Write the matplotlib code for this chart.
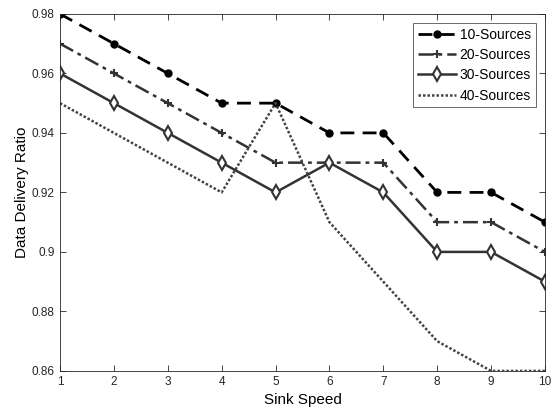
import matplotlib
matplotlib.use("Agg")
import matplotlib.pyplot as plt

# datos
velocidad = [1, 2, 3, 4, 5, 6, 7, 8, 9, 10]
fuentes_10 = [0.98, 0.97, 0.96, 0.95, 0.95, 0.94, 0.94, 0.92, 0.92, 0.91]
fuentes_20 = [0.97, 0.96, 0.95, 0.94, 0.93, 0.93, 0.93, 0.91, 0.91, 0.90]
fuentes_30 = [0.96, 0.95, 0.94, 0.93, 0.92, 0.93, 0.92, 0.90, 0.90, 0.89]
fuentes_40 = [0.95, 0.94, 0.93, 0.92, 0.95, 0.91, 0.89, 0.87, 0.86, 0.86]
etiquetas = ['10-Sources', '20-Sources', '30-Sources', '40-Sources']
ticks_y = [0.86, 0.88, 0.9, 0.92, 0.94, 0.96, 0.98]

plt.rcParams['font.family'] = ['Liberation Sans', 'DejaVu Sans']

fig = plt.figure(figsize=(5.57, 4.11), dpi=100)
ax = fig.add_axes([0.1077, 0.0975, 0.8707, 0.8687])

ax.plot(velocidad, fuentes_10, color='black', linestyle=(0, (5, 3)), linewidth=2,
        marker='o', markersize=5, label=etiquetas[0])
ax.plot(velocidad, fuentes_20, color='#333333', linestyle=(0, (6, 2, 1.5, 2)), linewidth=1.8,
        marker='+', markersize=6, markeredgewidth=1.5, label=etiquetas[1])
ax.plot(velocidad, fuentes_30, color='#333333', linestyle='-', linewidth=1.8,
        marker='d', markersize=7, markerfacecolor='white', markeredgewidth=1.5, label=etiquetas[2])
ax.plot(velocidad, fuentes_40, color='#444444', linestyle=(0, (1, 0.8)), linewidth=1.8,
        label=etiquetas[3])

ax.set_xlim(1, 10)
ax.set_ylim(0.86, 0.98)
ax.set_xticks(velocidad)
ax.set_yticks(ticks_y)
ax.set_yticklabels(['0.86', '0.88', '0.9', '0.92', '0.94', '0.96', '0.98'])
ax.tick_params(direction='in', top=True, right=True, labelsize=8.5, length=4,
               colors='#262626', width=0.6, pad=4)
for s in ax.spines.values():
    s.set_color('#262626')
    s.set_linewidth(0.6)

ax.set_xlabel('Sink Speed', fontsize=11, labelpad=3)
ax.set_ylabel('Data Delivery Ratio', fontsize=11, labelpad=2)

leg = ax.legend(loc='upper right', fontsize=10, frameon=True, fancybox=False,
                edgecolor='#262626', borderpad=0.35, labelspacing=0.45,
                handlelength=2.7, handletextpad=0.3, borderaxespad=0.65)
leg.get_frame().set_linewidth(0.6)

fig.savefig('out.png', dpi=100)
